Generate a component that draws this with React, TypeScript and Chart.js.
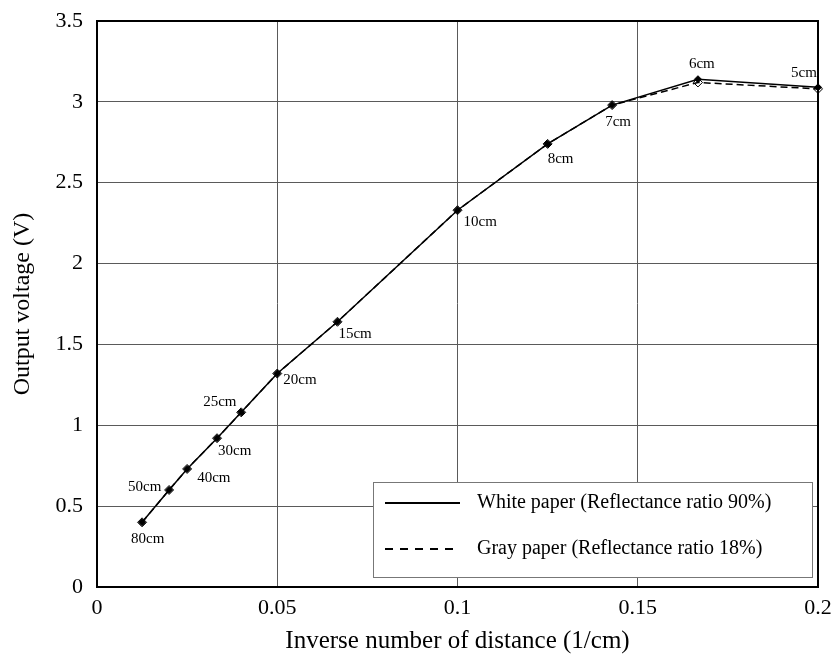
import React, { useEffect, useRef } from "react";
import { Chart, registerables } from "chart.js";

Chart.register(...registerables);

// ---- Data ----
const distanceLabels = ["80cm", "50cm", "40cm", "30cm", "25cm", "20cm", "15cm", "10cm", "8cm", "7cm", "6cm", "5cm"];
const inverseDistance = [0.0125, 0.02, 0.025, 0.0333, 0.04, 0.05, 0.0667, 0.1, 0.125, 0.1429, 0.1667, 0.2];
const whiteVoltage = [0.4, 0.6, 0.73, 0.92, 1.08, 1.32, 1.64, 2.33, 2.74, 2.98, 3.14, 3.09];
const grayVoltage = [0.4, 0.6, 0.73, 0.92, 1.08, 1.32, 1.64, 2.33, 2.74, 2.98, 3.12, 3.08];
const seriesNames = ["White paper (Reflectance ratio 90%)", "Gray paper (Reflectance ratio 18%)"];
const xTitle = "Inverse number of distance (1/cm)";
const yTitle = "Output voltage (V)";

// ---- Layout-only constants (label offsets from each point, px) ----
const labelOffsets: [number, number][] = [
  [-11, 17], [-41, -3], [10, 9], [1, 13], [-38, -10], [6, 7],
  [1, 12], [6, 12], [0, 15], [-7, 17], [-9, -15], [-27, -14],
];

const FONT = "'Liberation Serif', 'Times New Roman', serif";
const fmt = (v: any) => String(parseFloat(Number(v).toFixed(4)));

const decorPlugin = {
  id: "decor",
  afterDatasetsDraw(chart: any) {
    const { ctx, chartArea } = chart;
    const meta = chart.getDatasetMeta(0);
    ctx.save();
    // point labels
    ctx.font = `15px ${FONT}`;
    ctx.fillStyle = "#000";
    ctx.textAlign = "left";
    ctx.textBaseline = "middle";
    meta.data.forEach((pt: any, i: number) => {
      const [dx, dy] = labelOffsets[i];
      ctx.fillText(distanceLabels[i], pt.x + dx, pt.y + dy);
    });
    // frame
    ctx.strokeStyle = "#000";
    ctx.lineWidth = 2;
    ctx.strokeRect(chartArea.left, chartArea.top, chartArea.right - chartArea.left, chartArea.bottom - chartArea.top);
    // legend box
    const bx = 373, by = 482, bw = 439, bh = 95;
    ctx.fillStyle = "#fff";
    ctx.fillRect(bx, by, bw, bh);
    ctx.strokeStyle = "#777";
    ctx.lineWidth = 1;
    ctx.strokeRect(bx + 0.5, by + 0.5, bw, bh);
    const rows = [by + 21, by + 67];
    ctx.strokeStyle = "#000";
    ctx.lineWidth = 2;
    ctx.setLineDash([]);
    ctx.beginPath();
    ctx.moveTo(385, rows[0]);
    ctx.lineTo(460, rows[0]);
    ctx.stroke();
    ctx.setLineDash([8, 7]);
    ctx.beginPath();
    ctx.moveTo(385, rows[1]);
    ctx.lineTo(460, rows[1]);
    ctx.stroke();
    ctx.setLineDash([]);
    ctx.fillStyle = "#000";
    ctx.font = `20px ${FONT}`;
    ctx.textBaseline = "middle";
    ctx.fillText(seriesNames[0], 477, rows[0]);
    ctx.fillText(seriesNames[1], 477, rows[1]);
    ctx.restore();
  },
};

export default function App() {
  const canvasRef = useRef<HTMLCanvasElement | null>(null);

  useEffect(() => {
    if (!canvasRef.current) return;
    const whitePts = inverseDistance.map((x, i) => ({ x, y: whiteVoltage[i] }));
    const grayPts = inverseDistance.map((x, i) => ({ x, y: grayVoltage[i] }));
    const chart = new Chart(canvasRef.current, {
      type: "line",
      data: {
        datasets: [
          {
            label: seriesNames[0],
            data: whitePts,
            borderColor: "#000",
            borderWidth: 1.5,
            backgroundColor: "#000",
            pointStyle: "rectRot",
            pointRadius: 3.5,
            pointBorderWidth: 1,
            pointBorderColor: "#000",
            pointBackgroundColor: "#000",
            tension: 0,
            clip: false,
          },
          {
            label: seriesNames[1],
            data: grayPts,
            borderColor: "#000",
            borderWidth: 1.5,
            borderDash: [7, 4],
            pointStyle: "rectRot",
            pointRadius: 4.5,
            pointBorderWidth: 1,
            pointBorderColor: "#000",
            pointBackgroundColor: "rgba(0,0,0,0)",
            tension: 0,
            clip: false,
          },
        ],
      },
      options: {
        animation: false,
        responsive: false,
        maintainAspectRatio: false,
        layout: { padding: { top: 21, right: 16, left: 0, bottom: 0 } },
        plugins: { legend: { display: false }, tooltip: { enabled: false } },
        scales: {
          x: {
            type: "linear",
            min: 0,
            max: 0.2,
            afterFit: (s: any) => {
              s.height = 73;
              s.paddingLeft = 0;
              s.paddingRight = 0;
            },
            ticks: {
              stepSize: 0.05,
              padding: 8,
              color: "#000",
              font: { family: FONT, size: 22 },
              maxRotation: 0,
              callback: fmt,
            },
            grid: { color: "#5a5a5a", lineWidth: 1, drawTicks: false },
            border: { color: "#000", width: 2 },
            title: {
              display: true,
              text: xTitle,
              color: "#000",
              font: { family: FONT, size: 25 },
              padding: { top: 0, bottom: 4 },
            },
          },
          y: {
            type: "linear",
            min: 0,
            max: 3.5,
            afterFit: (s: any) => {
              s.width = 97;
              s.paddingTop = 0;
              s.paddingBottom = 0;
            },
            ticks: {
              stepSize: 0.5,
              padding: 14,
              color: "#000",
              font: { family: FONT, size: 22 },
              callback: fmt,
            },
            grid: { color: "#5a5a5a", lineWidth: 1, drawTicks: false },
            border: { color: "#000", width: 2 },
            title: {
              display: true,
              text: yTitle,
              color: "#000",
              font: { family: FONT, size: 24 },
              padding: { top: 8, bottom: 0 },
            },
          },
        },
      },
      plugins: [decorPlugin],
    });
    return () => chart.destroy();
  }, []);

  return (
    <div style={{ position: "fixed", left: 0, top: 0, width: 834, height: 660, background: "#fff" }}>
      <canvas ref={canvasRef} width={834} height={660} style={{ width: 834, height: 660, display: "block" }} />
    </div>
  );
}
